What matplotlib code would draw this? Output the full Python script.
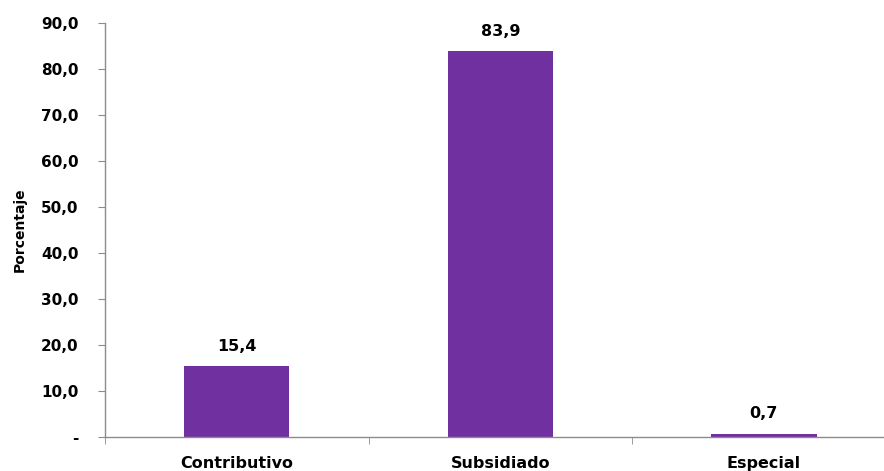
import matplotlib.pyplot as plt
from matplotlib.ticker import FixedLocator

categorias = ["Contributivo", "Subsidiado", "Especial"]
porcentajes = [15.4, 83.9, 0.7]
yticks = [0, 10, 20, 30, 40, 50, 60, 70, 80, 90]

color_barra = "#7030A0"
gris = "#8C8C8C"

fig = plt.figure(figsize=(8.84, 4.71), dpi=100)
ax = fig.add_axes([105 / 884, 1 - 437 / 471, 1 - 105 / 884, (437 - 23) / 471])

x = range(len(categorias))
ax.bar(x, porcentajes, width=0.4, color=color_barra)

for xi, v in zip(x, porcentajes):
    ax.annotate(f"{v:.1f}".replace(".", ","), (xi, v), xytext=(0, 9),
                textcoords="offset points", ha="center", va="bottom",
                fontsize=11.5, fontweight="bold")

ax.set_xlim(-0.5, 2.456)
ax.set_ylim(0, 90)
ax.set_yticks(yticks)
ax.set_yticklabels(["-" if t == 0 else f"{t:.1f}".replace(".", ",") for t in yticks],
                   fontsize=11, fontweight="bold")

ax.set_xticks(list(x))
ax.set_xticklabels(categorias, fontsize=11.5, fontweight="bold")
ax.xaxis.set_minor_locator(FixedLocator([-0.5, 0.5, 1.5, 2.5]))
ax.tick_params(axis="x", which="major", length=0, pad=14)
ax.tick_params(axis="x", which="minor", length=5, color=gris, direction="out")
ax.tick_params(axis="y", length=5, color=gris, direction="out", pad=14)

ax.set_ylabel("Porcentaje", fontsize=10, fontweight="bold", labelpad=10)

for s in ["top", "right"]:
    ax.spines[s].set_visible(False)
for s in ["left", "bottom"]:
    ax.spines[s].set_color(gris)
    ax.spines[s].set_linewidth(1)
ax.spines["left"].set_bounds(0, 90)

fig.savefig("out.png", dpi=100)
